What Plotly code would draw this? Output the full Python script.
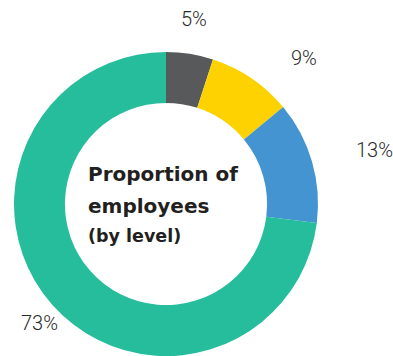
import plotly.graph_objects as go

# Share of employees by level (percent), clockwise from 12 o'clock
levels = ["Level A", "Level B", "Level C", "Level D"]
shares = [5, 9, 13, 73]
slice_colors = ["#58595b", "#fdd200", "#4394d0", "#25bd9b"]

W, H = 393, 356

# Pixel anchors for the outside percentage labels
label_px = [(194, 19), (304, 58), (374, 150), (39, 323)]

title_lines = ["Proportion of", "employees", "(by level)"]

fig = go.Figure(
    go.Pie(
        labels=levels,
        values=shares,
        sort=False,
        direction="clockwise",
        rotation=0,
        hole=0.665,
        marker=dict(colors=slice_colors, line=dict(width=0)),
        textinfo="none",
        hoverinfo="label+percent",
        domain=dict(x=[14 / W, 318 / W], y=[0, 1 - 52 / H]),
        showlegend=False,
    )
)

annotations = []
for v, (px, py) in zip(shares, label_px):
    annotations.append(
        dict(
            x=px / W, y=1 - py / H, xref="paper", yref="paper",
            text=f"{v}%", showarrow=False, xanchor="center", yanchor="middle",
            font=dict(family="Roboto", size=20, weight=300, color="#2a2a2a"),
        )
    )

# Centre caption, left-aligned block
title_specs = [(title_lines[0], 174, 20), (title_lines[1], 206, 20), (title_lines[2], 236, 17.5)]
for txt, py, fs in title_specs:
    annotations.append(
        dict(
            x=86 / W, y=1 - py / H, xref="paper", yref="paper",
            text=f"<b>{txt}</b>", showarrow=False, xanchor="left", yanchor="middle",
            font=dict(family="DejaVu Sans", size=fs, color="#231f20"),
        )
    )

fig.update_layout(
    width=W, height=H,
    margin=dict(l=0, r=0, t=0, b=0),
    paper_bgcolor="white", plot_bgcolor="white",
    annotations=annotations,
)

fig.write_html("out.html")
